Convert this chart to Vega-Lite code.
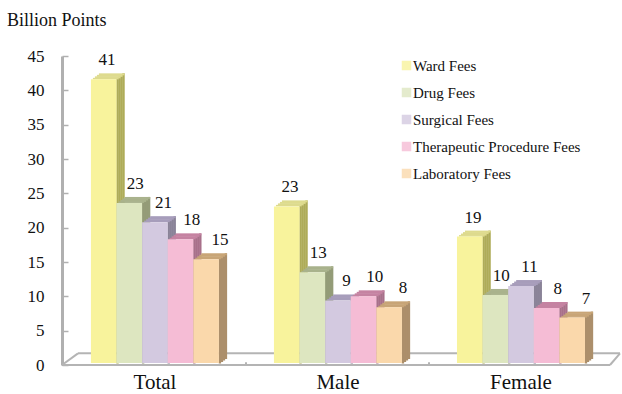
{"$schema":"https://vega.github.io/schema/vega-lite/v6.json","width":552,"height":309,"autosize":"none","padding":{"left":62,"top":56,"right":8,"bottom":29},"background":"white",
"title":{"text":"Billion Points","anchor":"start","frame":"group","font":"Liberation Serif","fontSize":18,"fontWeight":"normal","color":"#111","dx":-55,"offset":17},
"config":{"view":{"stroke":null}},
"datasets":{"fees":[
{"group":"Total","fee":"Ward Fees","value":41.6,"label":"41"},{"group":"Total","fee":"Drug Fees","value":23.6,"label":"23"},{"group":"Total","fee":"Surgical Fees","value":20.8,"label":"21"},{"group":"Total","fee":"Therapeutic Procedure Fees","value":18.3,"label":"18"},{"group":"Total","fee":"Laboratory Fees","value":15.4,"label":"15"},
{"group":"Male","fee":"Ward Fees","value":23.1,"label":"23"},{"group":"Male","fee":"Drug Fees","value":13.5,"label":"13"},{"group":"Male","fee":"Surgical Fees","value":9.4,"label":"9"},{"group":"Male","fee":"Therapeutic Procedure Fees","value":10,"label":"10"},{"group":"Male","fee":"Laboratory Fees","value":8.4,"label":"8"},
{"group":"Female","fee":"Ward Fees","value":18.7,"label":"19"},{"group":"Female","fee":"Drug Fees","value":10.2,"label":"10"},{"group":"Female","fee":"Surgical Fees","value":11.5,"label":"11"},{"group":"Female","fee":"Therapeutic Procedure Fees","value":8.3,"label":"8"},{"group":"Female","fee":"Laboratory Fees","value":6.9,"label":"7"}],
"floor":[{"a":0,"b":548,"lo":0,"hi":0},{"a":16,"b":558,"lo":1.7,"hi":1.7},{"a":0,"b":16,"lo":0,"hi":1.7},{"a":548,"b":558,"lo":0,"hi":1.7},{"a":184,"b":184,"lo":0,"hi":0.4},{"a":367,"b":367,"lo":0,"hi":0.4}]},
"resolve":{"scale":{"x":"independent","color":"independent"}},
"layer":[
{"data":{"name":"floor"},"mark":{"type":"rule","color":"#b4b4b4","strokeWidth":2},
"encoding":{"x":{"field":"a","type":"quantitative","scale":{"domain":[0,552],"nice":false,"zero":false},"axis":null},"x2":{"field":"b"},"y":{"field":"lo","type":"quantitative","scale":{"domain":[0,45]},"axis":{"values":[0,5,10,15,20,25,30,35,40,45],"labelOverlap":false,"grid":false,"title":null,"domainColor":"#b0b0b0","domainWidth":3,"tickColor":"#b0b0b0","tickWidth":1.5,"tickSize":-6,"labelFont":"Liberation Serif","labelFontSize":17,"labelColor":"#111","labelPadding":24}},"y2":{"field":"hi"}}},
{"data":{"name":"fees"},
"encoding":{"x":{"field":"group","type":"nominal","sort":["Total","Male","Female"],"scale":{"domain":["Total","Male","Female"],"paddingInner":0.3,"paddingOuter":0.158},"axis":{"title":null,"labelAngle":0,"domain":false,"ticks":false,"labelFont":"Liberation Serif","labelFontSize":21,"labelColor":"#111","labelPadding":6}},
"y":{"field":"value","type":"quantitative","scale":{"domain":[0,45]},"axis":{"values":[0,5,10,15,20,25,30,35,40,45],"labelOverlap":false,"grid":false,"title":null,"domainColor":"#b0b0b0","domainWidth":3,"tickColor":"#b0b0b0","tickWidth":1.5,"tickSize":-6,"labelFont":"Liberation Serif","labelFontSize":17,"labelColor":"#111","labelPadding":24}}},
"resolve":{"scale":{"color":"independent","xOffset":"independent"}},
"layer":[
{"mark":{"type":"bar","width":2.4,"yOffset":-1.5,"y2Offset":-1.5},"encoding":{"xOffset":{"field":"fee","type":"nominal","sort":null,"scale":{"domain":["Ward Fees","Drug Fees","Surgical Fees","Therapeutic Procedure Fees","Laboratory Fees"],"range":[13.8,141.8],"paddingInner":0,"paddingOuter":0}},"y2":{"datum":0},"color":{"field":"fee","type":"nominal","legend":null,"scale":{"domain":["Ward Fees","Drug Fees","Surgical Fees","Therapeutic Procedure Fees","Laboratory Fees"],"range":["#aeac58","#949c78","#8a8398","#a8708a","#ac8f6b"]}}}},
{"mark":{"type":"bar","width":2.4,"yOffset":-3,"y2Offset":-3},"encoding":{"xOffset":{"field":"fee","type":"nominal","sort":null,"scale":{"domain":["Ward Fees","Drug Fees","Surgical Fees","Therapeutic Procedure Fees","Laboratory Fees"],"range":[15.8,143.8],"paddingInner":0,"paddingOuter":0}},"y2":{"datum":0},"color":{"field":"fee","type":"nominal","legend":null,"scale":{"domain":["Ward Fees","Drug Fees","Surgical Fees","Therapeutic Procedure Fees","Laboratory Fees"],"range":["#aeac58","#949c78","#8a8398","#a8708a","#ac8f6b"]}}}},
{"mark":{"type":"bar","width":2.4,"yOffset":-4.5,"y2Offset":-4.5},"encoding":{"xOffset":{"field":"fee","type":"nominal","sort":null,"scale":{"domain":["Ward Fees","Drug Fees","Surgical Fees","Therapeutic Procedure Fees","Laboratory Fees"],"range":[17.8,145.8],"paddingInner":0,"paddingOuter":0}},"y2":{"datum":0},"color":{"field":"fee","type":"nominal","legend":null,"scale":{"domain":["Ward Fees","Drug Fees","Surgical Fees","Therapeutic Procedure Fees","Laboratory Fees"],"range":["#aeac58","#949c78","#8a8398","#a8708a","#ac8f6b"]}}}},
{"mark":{"type":"bar","width":2.4,"yOffset":-6,"y2Offset":-6},"encoding":{"xOffset":{"field":"fee","type":"nominal","sort":null,"scale":{"domain":["Ward Fees","Drug Fees","Surgical Fees","Therapeutic Procedure Fees","Laboratory Fees"],"range":[19.8,147.8],"paddingInner":0,"paddingOuter":0}},"y2":{"datum":0},"color":{"field":"fee","type":"nominal","legend":null,"scale":{"domain":["Ward Fees","Drug Fees","Surgical Fees","Therapeutic Procedure Fees","Laboratory Fees"],"range":["#aeac58","#949c78","#8a8398","#a8708a","#ac8f6b"]}}}},
{"mark":{"type":"bar","yOffset":-6,"y2Offset":-4},"encoding":{"xOffset":{"field":"fee","type":"nominal","sort":null,"scale":{"domain":["Ward Fees","Drug Fees","Surgical Fees","Therapeutic Procedure Fees","Laboratory Fees"],"range":[8,136],"paddingInner":0,"paddingOuter":0}},"y2":{"field":"value"},"color":{"field":"fee","type":"nominal","legend":null,"scale":{"domain":["Ward Fees","Drug Fees","Surgical Fees","Therapeutic Procedure Fees","Laboratory Fees"],"range":["#dedb8e","#a9b28c","#a79dbb","#c583a2","#c8a577"]}}}},
{"mark":{"type":"bar","yOffset":-4.5,"y2Offset":-2.5},"encoding":{"xOffset":{"field":"fee","type":"nominal","sort":null,"scale":{"domain":["Ward Fees","Drug Fees","Surgical Fees","Therapeutic Procedure Fees","Laboratory Fees"],"range":[6,134],"paddingInner":0,"paddingOuter":0}},"y2":{"field":"value"},"color":{"field":"fee","type":"nominal","legend":null,"scale":{"domain":["Ward Fees","Drug Fees","Surgical Fees","Therapeutic Procedure Fees","Laboratory Fees"],"range":["#dedb8e","#a9b28c","#a79dbb","#c583a2","#c8a577"]}}}},
{"mark":{"type":"bar","yOffset":-3,"y2Offset":-1},"encoding":{"xOffset":{"field":"fee","type":"nominal","sort":null,"scale":{"domain":["Ward Fees","Drug Fees","Surgical Fees","Therapeutic Procedure Fees","Laboratory Fees"],"range":[4,132],"paddingInner":0,"paddingOuter":0}},"y2":{"field":"value"},"color":{"field":"fee","type":"nominal","legend":null,"scale":{"domain":["Ward Fees","Drug Fees","Surgical Fees","Therapeutic Procedure Fees","Laboratory Fees"],"range":["#dedb8e","#a9b28c","#a79dbb","#c583a2","#c8a577"]}}}},
{"mark":{"type":"bar","yOffset":-1.5,"y2Offset":0},"encoding":{"xOffset":{"field":"fee","type":"nominal","sort":null,"scale":{"domain":["Ward Fees","Drug Fees","Surgical Fees","Therapeutic Procedure Fees","Laboratory Fees"],"range":[2,130],"paddingInner":0,"paddingOuter":0}},"y2":{"field":"value"},"color":{"field":"fee","type":"nominal","legend":null,"scale":{"domain":["Ward Fees","Drug Fees","Surgical Fees","Therapeutic Procedure Fees","Laboratory Fees"],"range":["#dedb8e","#a9b28c","#a79dbb","#c583a2","#c8a577"]}}}},
{"mark":{"type":"bar","y2Offset":-2},"encoding":{"xOffset":{"field":"fee","type":"nominal","sort":null,"scale":{"domain":["Ward Fees","Drug Fees","Surgical Fees","Therapeutic Procedure Fees","Laboratory Fees"],"range":[0,128],"paddingInner":0,"paddingOuter":0}},"y2":{"datum":0},"color":{"field":"fee","type":"nominal","scale":{"domain":["Ward Fees","Drug Fees","Surgical Fees","Therapeutic Procedure Fees","Laboratory Fees"],"range":["#f8f39c","#dde6c0","#d3c9e0","#f5bcd5","#fad8ab"]},"legend":{"title":null,"orient":"none","legendX":337,"legendY":2,"symbolType":"square","symbolSize":90,"symbolStrokeWidth":0,"symbolOpacity":0.8,"labelFont":"Liberation Serif","labelFontSize":15,"labelColor":"#111","labelOffset":-1,"rowPadding":11,"labelLimit":300}}}},
{"mark":{"type":"text","font":"Liberation Serif","fontSize":17,"color":"#111","baseline":"bottom","yOffset":-10},"encoding":{"xOffset":{"field":"fee","type":"nominal","sort":null,"scale":{"domain":["Ward Fees","Drug Fees","Surgical Fees","Therapeutic Procedure Fees","Laboratory Fees"],"range":[16,129],"paddingInner":0,"paddingOuter":0}},"text":{"field":"label"}}}
]}
]}
